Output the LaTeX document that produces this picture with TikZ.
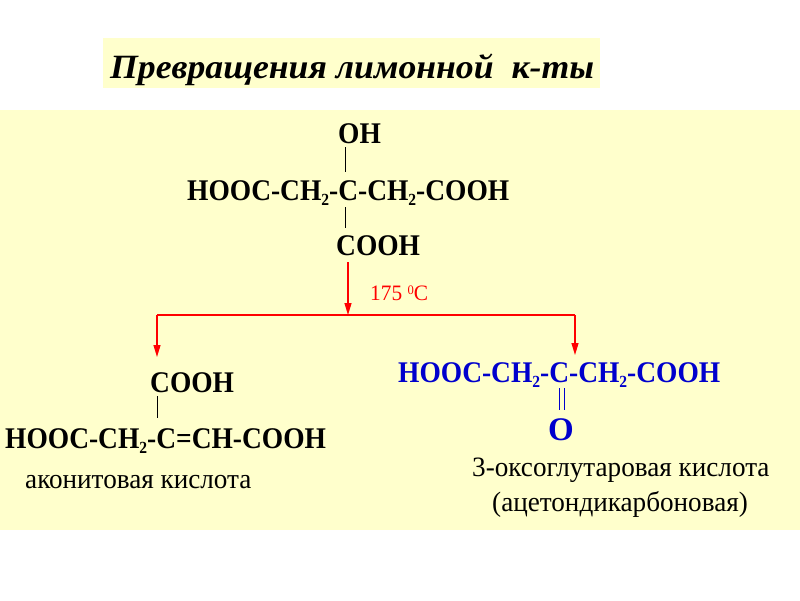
\documentclass[tikz,border=0pt]{standalone}
\usepackage{fontspec}
\setmainfont{Liberation Serif}
\usetikzlibrary{arrows.meta}
\definecolor{bgy}{HTML}{FFFFCC}
\definecolor{rd}{HTML}{FF0000}
\definecolor{bl}{HTML}{0000CC}
\newcommand{\sbs}[1]{\raisebox{-5pt}{\fontsize{17}{17}\selectfont #1}}
\begin{document}
\begin{tikzpicture}[x=1pt,y=-1pt,
  chem/.style={inner sep=0,anchor=base west,font=\bfseries\fontsize{30}{32}\selectfont},
  lab/.style={inner sep=0,anchor=base west,font=\fontsize{28}{30}\selectfont},
  bond/.style={line width=0.8pt},
  rarr/.style={rd,line width=1.2pt,-{Triangle[length=12pt,width=7pt]}}]
\useasboundingbox (0,0) rectangle (800,600);
\fill[white] (0,0) rectangle (800,600);
\fill[bgy] (0,110) rectangle (800,530);
\fill[bgy] (103,38) rectangle (600,88);
\node[inner sep=0,anchor=base west,font=\bfseries\itshape\fontsize{34}{36}\selectfont] (title) at (110,78) {\scalebox{1.05}[1]{Превращения лимонной\ \ к-ты}};
% main
\node[chem] (oh) at (338,143) {\scalebox{0.915}[1]{OH}};
\node[chem] (main) at (187,200) {\scalebox{0.915}[1]{HOOC-CH\sbs{2}-C-CH\sbs{2}-COOH}};
\node[chem] (cooh) at (336,255) {\scalebox{0.915}[1]{COOH}};
\draw[bond] (345,147) -- (345,172);
\draw[bond] (345,207) -- (345,228);
\coordinate (a0) at (348,262);
\coordinate (j) at (348,315);
\coordinate (jl) at (157,315);
\coordinate (jr) at (575,315);
\draw[rarr] (a0) -- (j);
\draw[rd,line width=1.2pt] (jl) -- (jr);
\node[inner sep=0,anchor=base west,text=rd,font=\fontsize{22}{24}\selectfont] (t) at (370,300) {\scalebox{0.97}[1]{175 \raisebox{6pt}{\fontsize{13}{13}\selectfont 0}C}};
\coordinate (el) at (157,357);
\coordinate (er) at (575,355);
\draw[rarr] (jl) -- (el);
\draw[rarr] (jr) -- (er);
% left
\node[chem] (lc) at (150,392) {\scalebox{0.915}[1]{COOH}};
\draw[bond] (157,396) -- (157,418);
\node[chem] (lm) at (5,448) {\scalebox{0.915}[1]{HOOC-CH\sbs{2}-C=CH-COOH}};
\node[lab] (ln) at (25,488) {\scalebox{0.97}[1]{аконитовая кислота}};
% right
\node[chem,text=bl] (rm) at (398,382) {\scalebox{0.915}[1]{HOOC-CH\sbs{2}-C-CH\sbs{2}-COOH}};
\draw[bl,line width=1pt] (559,388) -- (559,410) (564,388) -- (564,410);
\node[chem,text=bl,font=\bfseries\fontsize{33}{35}\selectfont] (ro) at (548,440) {O};
\node[lab] (rn1) at (472,476) {\scalebox{0.97}[1]{3-оксоглутаровая кислота}};
\node[lab] (rn2) at (492,511) {\scalebox{0.97}[1]{(ацетондикарбоновая)}};
\end{tikzpicture}
\end{document}
